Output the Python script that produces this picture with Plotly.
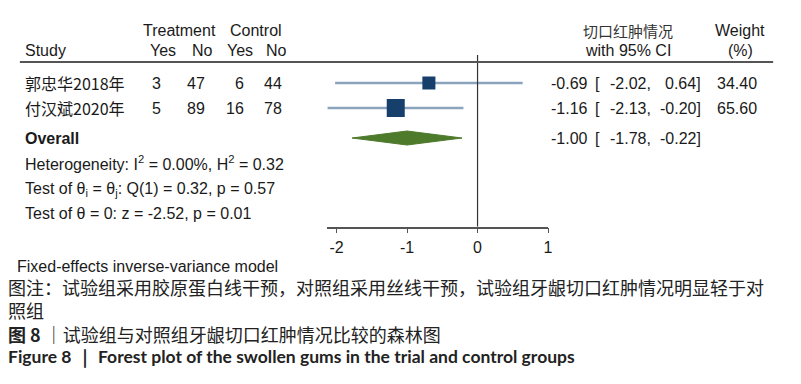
import plotly.graph_objects as go

# ---- data ----
studies = ["郭忠华2018年", "付汉斌2020年"]
treat_yes = [3, 5]
treat_no = [47, 89]
ctrl_yes = [6, 16]
ctrl_no = [44, 78]
es = [-0.69, -1.16]
ci_lo = [-2.02, -2.13]
ci_hi = [0.64, -0.20]
weights = [34.40, 65.60]
overall_es = -1.00
overall_lo = -1.78
overall_hi = -0.22
tick_vals = [-2, -1, 0, 1]
tick_text = ["-2", "-1", "0", "1"]
study_rows = [1, 2]
overall_row = 3.2

W, H = 801, 384
FONT = "Liberation Sans, Arial, Noto Sans CJK SC"
CJK = "Noto Sans CJK SC, Liberation Sans"
TXT = "#1a1a1a"
FS = 16


def px(x):
    return x / W


def py(y):
    return 1 - y / H


fig = go.Figure()

# CI lines
for r, lo, hi in zip(study_rows, ci_lo, ci_hi):
    fig.add_trace(go.Scatter(x=[lo, hi], y=[r, r], mode="lines",
                             line=dict(color="#8aa4bd", width=2.5),
                             hoverinfo="skip", showlegend=False))
# squares sized by weight
wmax = max(weights)
sizes = [18 * (w / wmax) ** 0.5 for w in weights]
fig.add_trace(go.Scatter(x=es, y=study_rows, mode="markers",
                         marker=dict(symbol="square", size=sizes, color="#173f6b",
                                     opacity=1, line=dict(width=0)),
                         hoverinfo="skip", showlegend=False))
# overall diamond
dh = 0.28
fig.add_trace(go.Scatter(
    x=[overall_lo, overall_es, overall_hi, overall_es, overall_lo],
    y=[overall_row, overall_row - dh, overall_row, overall_row + dh, overall_row],
    mode="lines", fill="toself", fillcolor="#4d7a2b",
    line=dict(color="#4d7a2b", width=1), hoverinfo="skip", showlegend=False))

# null line
fig.add_shape(type="line", xref="x", yref="y", x0=0, x1=0, y0=-0.12, y1=6.748,
              line=dict(color="#333333", width=1.2))
# header rule
fig.add_shape(type="line", xref="paper", yref="paper", x0=px(20), x1=px(778),
              y0=py(62), y1=py(62), line=dict(color="#555555", width=2))

ann = []


def T(text, x, y, anchor="left", size=FS, family=FONT, color=TXT):
    ann.append(dict(text=text, x=px(x), y=py(y), xref="paper", yref="paper",
                    xanchor=anchor, yanchor="middle", showarrow=False, align="left",
                    font=dict(size=size, family=family, color=color)))


# headers
T("Treatment", 181, 30, "center")
T("Control", 258, 30, "center")
T("Study", 23, 50)
T("Yes", 164, 50, "center")
T("No", 204, 50, "center")
T("Yes", 242, 50, "center")
T("No", 278, 50, "center")
T("切口红肿情况", 632, 30, "center", family=CJK, size=15, color="#333333")
T("with 95% CI", 632, 50, "center")
T("Weight", 745, 30, "center")
T("(%)", 745, 50, "center")

row_px = [83, 108]
for i in range(len(studies)):
    y = row_px[i]
    T(studies[i], 23, y, family=CJK)
    T(str(treat_yes[i]), 164, y, "right")
    T(str(treat_no[i]), 208, y, "right")
    T(str(ctrl_yes[i]), 248, y, "right")
    T(str(ctrl_no[i]), 286, y, "right")
    T(f"{es[i]:.2f}", 594, y, "right")
    T("[", 597, y)
    T(f"{ci_lo[i]:.2f},", 657, y, "right")
    T(f"{ci_hi[i]:.2f}]", 707, y, "right")
    T(f"{weights[i]:.2f}", 764, y, "right")

yo = 138
T("<b>Overall</b>", 23, yo)
T(f"{overall_es:.2f}", 594, yo, "right")
T("[", 597, yo)
T(f"{overall_lo:.2f},", 657, yo, "right")
T(f"{overall_hi:.2f}]", 707, yo, "right")

T("Heterogeneity: I<sup>2</sup> = 0.00%, H<sup>2</sup> = 0.32", 23, 163)
T("Test of θ<sub>i</sub> = θ<sub>j</sub>: Q(1) = 0.32, p = 0.57", 23, 189)
T("Test of θ = 0: z = -2.52, p = 0.01", 23, 213)
T("Fixed-effects inverse-variance model", 15, 266)

# caption (three CJK lines in one block)
T("图注：试验组采用胶原蛋白线干预，对照组采用丝线干预，试验组牙龈切口红肿情况明显轻于对"
  "<br>照组<br><b>图 8</b> ｜试验组与对照组牙龈切口红肿情况比较的森林图",
  6, 310, size=18, family=CJK, color="#222222")
T("<b>Figure 8 ｜ Forest plot of the swollen gums in the trial and control groups</b>",
  6, 357, size=17.5, family="Lato, Open Sans", color="#222222")

fig.update_layout(
    width=W, height=H, margin=dict(l=0, r=0, t=0, b=0),
    paper_bgcolor="white", plot_bgcolor="white",
    annotations=ann,
    xaxis=dict(domain=[px(329.4), px(551.5)], range=[-2.13, 1.0],
               tickvals=tick_vals, ticktext=tick_text, showline=True,
               linecolor="#555555", linewidth=1.5, ticks="outside", ticklen=5,
               tickcolor="#555555", tickwidth=1.2, showgrid=False, zeroline=False,
               tickfont=dict(size=FS, family=FONT, color=TXT)),
    yaxis=dict(domain=[py(226.7), 1], range=[6.748, -2.32], visible=False,
               showgrid=False, zeroline=False),
)

fig.write_html("out.html", config={"displayModeBar": False},
               post_script="document.body.style.margin='0';document.body.style.overflow='hidden';")
